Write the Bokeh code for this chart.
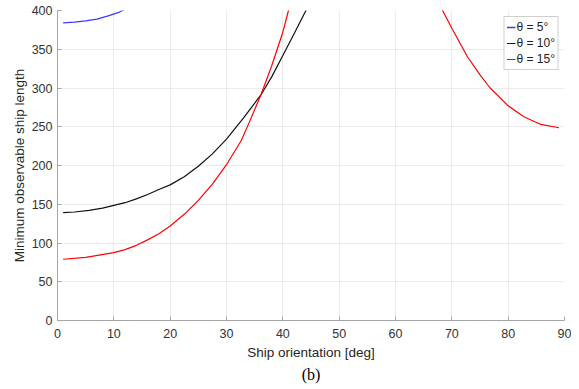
import numpy as np
from bokeh.plotting import figure
from bokeh.models import Range1d, Legend, LegendItem, Title, FixedTicker
from bokeh.embed import file_html
from bokeh.resources import INLINE

# theta = 5 deg
x5 = [1, 3, 5, 7, 9, 11, 12]
y5 = [384, 385, 386.5, 389, 393, 398, 402]

# theta = 10 deg
x10 = [1, 3, 5.6, 8, 10, 12, 14, 16, 18, 20, 22.5, 25, 27.5, 30, 33, 36.1, 38, 40, 42, 44.1, 45]
y10 = [139.3, 140, 142, 145, 148.5, 152, 157, 162.5, 169, 175, 185.5, 199, 215, 234, 261, 291,
       314, 342, 370, 400, 413]

# theta = 15 deg (gap where values exceed the axis)
x15 = [1, 5, 10, 12, 14, 16, 18, 20, 22.5, 25, 27.5, 30, 32.6, 34, 36.1, 38, 40, 41, 41.5,
       np.nan,
       68, 68.5, 70, 72.8, 75, 76.8, 80, 82.8, 85.8, 88.8, 89]
y15 = [79, 81.5, 87.5, 91.5, 97, 104, 112, 122, 137, 155, 176, 201, 232, 255, 291, 328, 372, 400, 415,
       np.nan,
       405, 398, 377, 340, 317, 300, 277, 263, 253, 249, 248.5]

xticks = [0, 10, 20, 30, 40, 50, 60, 70, 80, 90]
yticks = [0, 50, 100, 150, 200, 250, 300, 350, 400]

FONT = "Liberation Sans"

p = figure(width=571, height=387, output_backend="svg", toolbar_location=None,
           x_range=Range1d(0, 90), y_range=Range1d(0, 400),
           min_border_left=57, min_border_right=7, min_border_top=10, min_border_bottom=67)
p.outline_line_color = None
p.background_fill_color = "white"
p.border_fill_color = "white"

r5 = p.line(x5, y5, line_color="#3a3aff", line_width=1.3)
r10 = p.line(x10, y10, line_color="#111111", line_width=1.2)
r15 = p.line(x15, y15, line_color="#ff0000", line_width=1.2)

for ax in (p.xaxis[0], p.yaxis[0]):
    ax.axis_line_color = "#a6a6a6"
    ax.major_tick_line_color = "#a6a6a6"
    ax.major_tick_in = 4
    ax.major_tick_out = 0
    ax.minor_tick_line_color = None
    ax.major_label_text_font = FONT
    ax.major_label_text_font_size = "12.5px"
    ax.major_label_text_color = "#333333"
    ax.axis_label_text_font = FONT
    ax.axis_label_text_font_size = "13.5px"
    ax.axis_label_text_font_style = "normal"
    ax.axis_label_text_color = "#262626"

p.xaxis.ticker = FixedTicker(ticks=xticks)
p.yaxis.ticker = FixedTicker(ticks=yticks)
p.xaxis.axis_label = "Ship orientation [deg]"
p.yaxis.axis_label = "Minimum observable ship length"
p.xaxis.major_label_standoff = 8
p.yaxis.major_label_standoff = 5
p.xaxis.axis_label_standoff = 4
p.yaxis.axis_label_standoff = 2

p.xgrid.grid_line_color = "#ebebeb"
p.ygrid.grid_line_color = "#ebebeb"

legend = Legend(items=[
    LegendItem(label="\u03b8 = 5\u00b0", renderers=[r5]),
    LegendItem(label="\u03b8 = 10\u00b0", renderers=[r10]),
    LegendItem(label="\u03b8 = 15\u00b0", renderers=[r15]),
], location="top_right")
legend.margin = 6
legend.padding = 2
legend.spacing = 0
legend.glyph_width = 9
legend.glyph_height = 16
legend.label_height = 16
legend.label_standoff = 1
legend.label_text_font = FONT
legend.label_text_font_size = "12px"
legend.label_text_color = "#222222"
legend.border_line_color = "#a0a0a0"
legend.border_line_width = 1
legend.background_fill_alpha = 1
p.add_layout(legend)

cap = Title(text="(b)", align="center", text_font="Liberation Serif",
            text_font_size="16px", text_font_style="normal", text_color="#000000",
            standoff=3)
p.add_layout(cap, "below")

open("out.html", "w").write(file_html(p, INLINE))
